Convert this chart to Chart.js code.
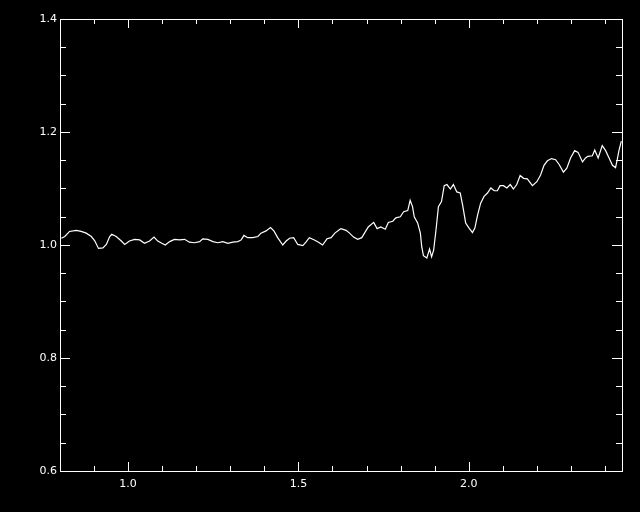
<!DOCTYPE html>
<html>
<head>
<meta charset="utf-8">
<script src="https://cdn.jsdelivr.net/npm/chart.js@4"></script>
<style>
  html, body { margin: 0; padding: 0; background: #000; }
  canvas { display: block; }
</style>
</head>
<body>
<canvas id="chart" width="640" height="512"></canvas>
<script>
// spectrum
const xValues = [0.804, 0.814, 0.828, 0.848, 0.862, 0.877, 0.892, 0.902, 0.913, 0.926,
  0.936, 0.946, 0.952, 0.965, 0.980, 0.990, 1.004, 1.019, 1.034, 1.048,
  1.063, 1.076, 1.087, 1.099, 1.109, 1.122, 1.136, 1.151, 1.166, 1.180,
  1.195, 1.210, 1.219, 1.234, 1.249, 1.263, 1.278, 1.293, 1.307, 1.322,
  1.332, 1.340, 1.351, 1.366, 1.381, 1.390, 1.405, 1.418, 1.428, 1.439,
  1.454, 1.464, 1.474, 1.486, 1.498, 1.513, 1.522, 1.532, 1.547, 1.559,
  1.571, 1.584, 1.596, 1.607, 1.620, 1.625, 1.640, 1.650, 1.662, 1.674,
  1.686, 1.694, 1.705, 1.721, 1.731, 1.742, 1.755, 1.764, 1.777, 1.786,
  1.799, 1.809, 1.821, 1.828, 1.835, 1.840, 1.850, 1.858, 1.862, 1.867,
  1.877, 1.885, 1.891, 1.897, 1.904, 1.911, 1.920, 1.928, 1.936, 1.946,
  1.955, 1.965, 1.975, 1.982, 1.991, 2.001, 2.011, 2.018, 2.026, 2.035,
  2.045, 2.055, 2.065, 2.075, 2.084, 2.092, 2.102, 2.112, 2.122, 2.131,
  2.141, 2.151, 2.161, 2.172, 2.187, 2.200, 2.211, 2.221, 2.231, 2.243,
  2.255, 2.265, 2.278, 2.288, 2.299, 2.311, 2.321, 2.334, 2.343, 2.350,
  2.363, 2.370, 2.380, 2.392, 2.402, 2.412, 2.422, 2.431, 2.436, 2.441, 2.448];
const yValues = [1.012, 1.015, 1.024, 1.026, 1.024, 1.021, 1.015, 1.0075, 0.994, 0.995,
  1.001, 1.015, 1.019, 1.015, 1.007, 1.001, 1.007, 1.010, 1.009, 1.003,
  1.007, 1.014, 1.007, 1.003, 1.000, 1.006, 1.010, 1.009, 1.010, 1.005,
  1.004, 1.006, 1.011, 1.010, 1.006, 1.004, 1.006, 1.003, 1.005, 1.006,
  1.009, 1.017, 1.013, 1.013, 1.015, 1.021, 1.025, 1.031, 1.025, 1.013,
  1.000, 1.007, 1.012, 1.013, 1.001, 0.999, 1.005, 1.013, 1.009, 1.005,
  1.000, 1.011, 1.013, 1.021, 1.027, 1.029, 1.026, 1.021, 1.014, 1.010,
  1.013, 1.021, 1.032, 1.040, 1.029, 1.032, 1.028, 1.040, 1.042, 1.048,
  1.050, 1.059, 1.061, 1.079, 1.068, 1.050, 1.039, 1.021, 0.997, 0.981,
  0.977, 0.993, 0.979, 0.991, 1.027, 1.068, 1.077, 1.105, 1.107, 1.099,
  1.107, 1.094, 1.092, 1.071, 1.039, 1.030, 1.022, 1.030, 1.053, 1.074,
  1.086, 1.092, 1.101, 1.096, 1.096, 1.105, 1.105, 1.101, 1.107, 1.099,
  1.107, 1.123, 1.118, 1.117, 1.105, 1.112, 1.124, 1.141, 1.149, 1.153,
  1.151, 1.143, 1.129, 1.136, 1.154, 1.167, 1.164, 1.147, 1.154, 1.157,
  1.158, 1.168, 1.154, 1.176, 1.167, 1.154, 1.141, 1.137, 1.151, 1.167, 1.184];
const xTickLabels = [1.0, 1.5, 2.0];
const yTickLabels = [0.6, 0.8, 1.0, 1.2, 1.4];

const points = xValues.map((x, i) => ({ x: x, y: yValues[i] }));

// IDL style frame: box with ticks pointing inwards on all four sides
const framePlugin = {
  id: 'frame',
  beforeDraw(chart) {
    const c = chart.ctx;
    c.save();
    c.fillStyle = '#000';
    c.fillRect(0, 0, chart.width, chart.height);
    c.restore();
  },
  afterDraw(chart) {
    const c = chart.ctx;
    const a = chart.chartArea;
    const xs = chart.scales.x, ys = chart.scales.y;
    c.save();
    c.strokeStyle = '#fff';
    c.lineWidth = 1;
    c.strokeRect(Math.round(a.left) + 0.5, Math.round(a.top) + 0.5,
      Math.round(a.right - a.left), Math.round(a.bottom - a.top));
    c.beginPath();
    for (let v = 0.8; v <= 2.45 + 1e-9; v += 0.1) {
      const major = xTickLabels.some(t => Math.abs(t - v) < 1e-6);
      const len = major ? 9 : 5;
      const px = Math.round(xs.getPixelForValue(v)) + 0.5;
      c.moveTo(px, a.bottom); c.lineTo(px, a.bottom - len);
      c.moveTo(px, a.top); c.lineTo(px, a.top + len);
    }
    for (let v = 0.6; v <= 1.4 + 1e-9; v += 0.05) {
      const major = yTickLabels.some(t => Math.abs(t - v) < 1e-6);
      const len = major ? 10 : 6;
      const py = Math.round(ys.getPixelForValue(v)) + 0.5;
      c.moveTo(a.left, py); c.lineTo(a.left + len, py);
      c.moveTo(a.right, py); c.lineTo(a.right - len, py);
    }
    c.stroke();
    c.restore();
  }
};

new Chart(document.getElementById('chart'), {
  type: 'scatter',
  data: {
    datasets: [{
      data: points,
      showLine: true,
      borderColor: '#fff',
      borderWidth: 1.2,
      pointRadius: 0,
      tension: 0
    }]
  },
  options: {
    responsive: false,
    animation: false,
    events: [],
    layout: { padding: { top: 19, right: 18, left: 0, bottom: 0 } },
    plugins: { legend: { display: false }, tooltip: { enabled: false } },
    scales: {
      x: {
        type: 'linear',
        min: 0.8,
        max: 2.45,
        afterBuildTicks: s => { s.ticks = xTickLabels.map(v => ({ value: v })); },
        afterFit: s => { s.height = 41; },
        grid: { display: false, drawTicks: false },
        border: { display: false },
        ticks: {
          color: '#fff',
          padding: 7,
          maxRotation: 0,
          font: { family: 'DejaVu Sans', size: 11 },
          callback: v => v.toFixed(1)
        }
      },
      y: {
        type: 'linear',
        min: 0.6,
        max: 1.4,
        afterBuildTicks: s => { s.ticks = yTickLabels.map(v => ({ value: v })); },
        afterFit: s => { s.width = 60; },
        grid: { display: false, drawTicks: false },
        border: { display: false },
        ticks: {
          color: '#fff',
          padding: 3,
          font: { family: 'DejaVu Sans', size: 11 },
          callback: v => v.toFixed(1)
        }
      }
    }
  },
  plugins: [framePlugin]
});
</script>
</body>
</html>
